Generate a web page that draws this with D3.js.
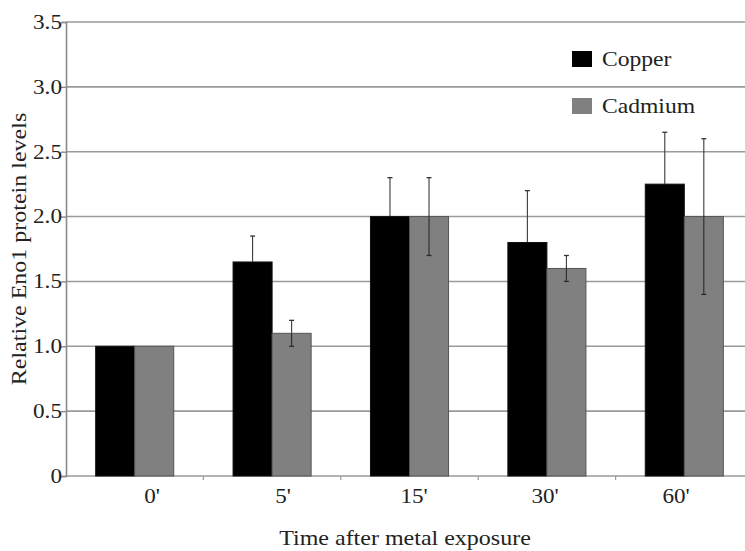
<!DOCTYPE html>
<html>
<head>
<meta charset="utf-8">
<script src="https://cdn.jsdelivr.net/npm/d3@7"></script>
<style>
  html, body { margin: 0; padding: 0; background: #fff; overflow: hidden; }
  svg { display: block; }
  text { font-family: "Liberation Serif", "DejaVu Serif", serif; fill: #222; }
</style>
</head>
<body>
<svg id="chart"></svg>
<script>
// categories and series
const times = ["0'", "5'", "15'", "30'", "60'"];
const seriesNames = ["Copper", "Cadmium"];
const copper = [1.0, 1.65, 2.0, 1.8, 2.25];
const copperErr = [0, 0.2, 0.3, 0.4, 0.4];
const cadmium = [1.0, 1.1, 2.0, 1.6, 2.0];
const cadmiumErr = [0, 0.1, 0.3, 0.1, 0.6];
const yTicks = [0, 0.5, 1.0, 1.5, 2.0, 2.5, 3.0, 3.5];

const WIDTH = 745;
const HEIGHT = 551;
// plot runs a little past the right edge of the picture, like the original
const margin = { top: 22, right: -8, bottom: 75, left: 66 };
const iwidth = WIDTH - margin.left - margin.right;
const iheight = HEIGHT - margin.top - margin.bottom;

const colors = { Copper: "#000000", Cadmium: "#808080" };
const strokes = { Copper: "#111111", Cadmium: "#555555" };
// error line colour where it runs inside the bar
const innerErr = { Copper: "#000000", Cadmium: "#2a2a2a" };

// the original type is drawn a bit wide, so stretch it horizontally
function wideText(sel, x, y, sx, rotate) {
  return sel.append("text")
    .attr("transform", `translate(${x}, ${y})${rotate ? " rotate(" + rotate + ")" : ""} scale(${sx}, 1)`);
}

const svg = d3.select("#chart")
  .attr("width", WIDTH)
  .attr("height", HEIGHT);

const g = svg.append("g")
  .attr("transform", `translate(${margin.left}, ${margin.top})`);

const x = d3.scaleBand().domain(times).range([0, iwidth]);
const xSub = d3.scaleBand().domain(seriesNames).range([0, x.bandwidth()]).paddingOuter(0.76);
const y = d3.scaleLinear().domain([0, 3.5]).range([iheight, 0]);
// category labels sit on a slightly tighter spacing than the bars
const xLabel = d3.scalePoint().domain(times).range([86, 610]);

// gridlines
g.append("g")
  .selectAll("line")
  .data(yTicks)
  .join("line")
  .attr("x1", 0)
  .attr("x2", iwidth)
  .attr("y1", (d) => y(d))
  .attr("y2", (d) => y(d))
  .attr("stroke", "#9a9a9a")
  .attr("stroke-width", 1.6);

// y axis line + ticks
g.append("g")
  .call(d3.axisLeft(y).tickValues(yTicks).tickSize(5).tickFormat(""))
  .call((ax) => {
    ax.select(".domain").attr("stroke", "#8a8a8a").attr("stroke-width", 1.6);
    ax.selectAll(".tick line").attr("stroke", "#8a8a8a").attr("stroke-width", 1.4);
  });

yTicks.forEach((t) => {
  wideText(g, -4, y(t), 1.16)
    .attr("text-anchor", "end")
    .attr("dy", "0.34em")
    .attr("font-size", "20px")
    .text(t === 0 ? "0" : d3.format(".1f")(t));
});

// x axis ticks at band boundaries
g.append("g")
  .attr("transform", `translate(0, ${iheight})`)
  .selectAll("line")
  .data(times.slice(1))
  .join("line")
  .attr("x1", (d) => x(d))
  .attr("x2", (d) => x(d))
  .attr("y1", 0)
  .attr("y2", 4)
  .attr("stroke", "#9a9a9a")
  .attr("stroke-width", 1.2);

times.forEach((t) => {
  wideText(g, xLabel(t), iheight + 27, 1.05)
    .attr("text-anchor", "middle")
    .attr("font-size", "22px")
    .text(t);
});

// bars
const rows = times.map((t, i) => ({
  time: t,
  values: [
    { name: "Copper", value: copper[i], err: copperErr[i] },
    { name: "Cadmium", value: cadmium[i], err: cadmiumErr[i] },
  ],
}));

const groups = g.append("g")
  .selectAll("g.group")
  .data(rows)
  .join("g")
  .attr("class", "group")
  .attr("transform", (d) => `translate(${x(d.time)}, 0)`);

groups.selectAll("rect")
  .data((d) => d.values)
  .join("rect")
  .attr("x", (d) => xSub(d.name))
  .attr("width", xSub.bandwidth())
  .attr("y", (d) => y(d.value))
  .attr("height", (d) => iheight - y(d.value))
  .attr("fill", (d) => colors[d.name])
  .attr("stroke", (d) => strokes[d.name])
  .attr("stroke-width", 1);

// error bars: upper half over white, lower half inside the bar
const errs = groups.selectAll("g.err")
  .data((d) => d.values.filter((v) => v.err > 0))
  .join("g")
  .attr("class", "err")
  .attr("transform", (d) => `translate(${xSub(d.name) + xSub.bandwidth() / 2}, 0)`);

errs.append("line")
  .attr("y1", (d) => y(d.value))
  .attr("y2", (d) => y(d.value + d.err))
  .attr("stroke", "#3a3a3a")
  .attr("stroke-width", 1.1);

errs.append("line")
  .attr("y1", (d) => y(d.value - d.err))
  .attr("y2", (d) => y(d.value))
  .attr("stroke", (d) => innerErr[d.name])
  .attr("stroke-width", 1.1);

errs.append("line")
  .attr("x1", -2.5)
  .attr("x2", 2.5)
  .attr("y1", (d) => y(d.value + d.err))
  .attr("y2", (d) => y(d.value + d.err))
  .attr("stroke", "#333")
  .attr("stroke-width", 1.3);

errs.append("line")
  .attr("x1", -2.5)
  .attr("x2", 2.5)
  .attr("y1", (d) => y(d.value - d.err))
  .attr("y2", (d) => y(d.value - d.err))
  .attr("stroke", (d) => innerErr[d.name])
  .attr("stroke-width", 1.3);

// axis titles
wideText(svg, 405, 545, 1.2)
  .attr("text-anchor", "middle")
  .attr("font-size", "20px")
  .text("Time after metal exposure");

wideText(svg, 26, margin.top + iheight / 2, 1.2, -90)
  .attr("text-anchor", "middle")
  .attr("font-size", "20px")
  .text("Relative Eno1 protein levels");

// legend
const legend = svg.append("g")
  .selectAll("g")
  .data(seriesNames)
  .join("g")
  .attr("transform", (d, i) => `translate(572, ${51 + i * 47})`);

legend.append("rect")
  .attr("width", 20)
  .attr("height", 16)
  .attr("fill", (d) => colors[d]);

legend.each(function (d) {
  wideText(d3.select(this), 30, 15, 1.18)
    .attr("font-size", "20px")
    .text(d);
});
</script>
</body>
</html>
